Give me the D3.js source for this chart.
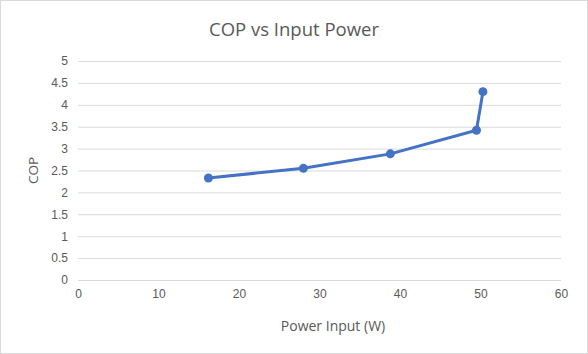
<!DOCTYPE html>
<html>
<head>
<meta charset="utf-8">
<script src="https://cdn.jsdelivr.net/npm/d3@7"></script>
<style>
  body { margin: 0; background: #fff; }
  svg { display: block; font-family: "Open Sans", "Liberation Sans", sans-serif; }
</style>
</head>
<body>
<div id="chart"></div>
<script>
// data
const powerInput = [16.2, 28.0, 38.8, 49.5, 50.3];
const cop = [2.33, 2.55, 2.88, 3.42, 4.3];
const xTicks = [0, 10, 20, 30, 40, 50, 60];
const yTicks = [0, 0.5, 1, 1.5, 2, 2.5, 3, 3.5, 4, 4.5, 5];

const W = 588;
const H = 354;
const marginLeft = 78;
const marginRight = 27;
const marginTop = 61;
const marginBottom = 74;
const TEXT = '#595959';
const BLUE = '#4472C4';

const $svg = d3.select('#chart').append('svg')
  .attr('width', W)
  .attr('height', H);

$svg.append('rect')
  .attr('x', 0.5).attr('y', 0.5)
  .attr('width', W - 1).attr('height', H - 1)
  .attr('fill', '#fff')
  .attr('stroke', '#d9d9d9');

const scaleX = d3.scaleLinear().domain([0, 60]).range([marginLeft, W - marginRight]);
const scaleY = d3.scaleLinear().domain([0, 5]).range([H - marginBottom, marginTop]);

// gridlines + y labels
const axisY = d3.axisLeft(scaleY)
  .tickValues(yTicks)
  .tickSize(-(W - marginLeft - marginRight))
  .tickPadding(10)
  .tickFormat(d => d);

const $gy = $svg.append('g')
  .attr('transform', `translate(${marginLeft},0)`)
  .call(axisY);
$gy.select('.domain').remove();
$gy.selectAll('line').attr('stroke', '#d9d9d9');
$gy.selectAll('text').attr('fill', TEXT).style('font-size', '12px');

// x labels
const axisX = d3.axisBottom(scaleX)
  .tickValues(xTicks)
  .tickSize(0)
  .tickPadding(9);
const $gx = $svg.append('g')
  .attr('transform', `translate(0,${scaleY(0)})`)
  .call(axisX);
$gx.select('.domain').remove();
$gx.selectAll('text').attr('fill', TEXT).style('font-size', '12px');

// titles
$svg.append('text')
  .attr('x', 294)
  .attr('y', 36)
  .attr('text-anchor', 'middle')
  .attr('fill', TEXT)
  .style('font-size', '18.5px')
  .text('COP vs Input Power');

$svg.append('text')
  .attr('x', 333)
  .attr('y', 331)
  .attr('text-anchor', 'middle')
  .attr('fill', TEXT)
  .style('font-size', '14px')
  .text('Power Input (W)');

$svg.append('text')
  .attr('transform', `translate(38,${(scaleY(0) + scaleY(5)) / 2}) rotate(-90)`)
  .attr('text-anchor', 'middle')
  .attr('fill', TEXT)
  .style('font-size', '13.5px')
  .text('COP');

// series
const points = powerInput.map((x, i) => ({ x, y: cop[i] }));
const line = d3.line().x(d => scaleX(d.x)).y(d => scaleY(d.y));

$svg.append('path')
  .datum(points)
  .attr('d', line)
  .attr('fill', 'none')
  .attr('stroke', BLUE)
  .attr('stroke-width', 3)
  .attr('stroke-linejoin', 'round');

$svg.selectAll('.pt')
  .data(points)
  .join('circle')
  .attr('class', 'pt')
  .attr('cx', d => scaleX(d.x))
  .attr('cy', d => scaleY(d.y))
  .attr('r', 4.5)
  .attr('fill', BLUE);
</script>
</body>
</html>
